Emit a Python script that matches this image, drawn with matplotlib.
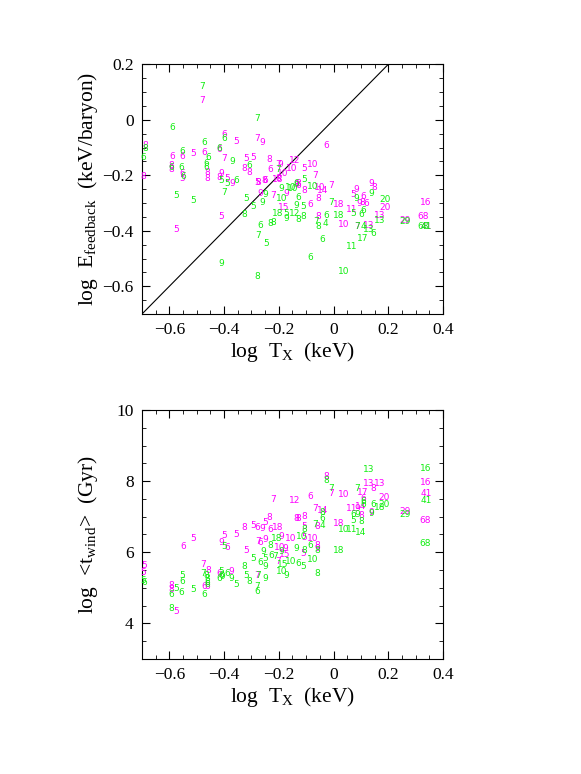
import numpy as np
import matplotlib
matplotlib.use("Agg")
import matplotlib.pyplot as plt
from matplotlib.ticker import MultipleLocator, FuncFormatter

plt.rcParams['font.family'] = ['Liberation Serif', 'DejaVu Serif']
plt.rcParams['mathtext.fontset'] = 'custom'
plt.rcParams['mathtext.rm'] = 'Liberation Serif'

MAG = '#ff00ff'
GRN = '#11ee11'

# --- top panel: log E_feedback vs log T_X, labels are the point numbers ---
top_mag_x = [-0.48, -0.40, -0.356, -0.281, -0.259, -0.417, -0.59, -0.553, -0.512, -0.472,
             -0.399, -0.321, -0.293, -0.235, -0.202, -0.193, -0.141, -0.326, -0.308, -0.23,
             -0.153, -0.593, -0.593, -0.553, -0.555, -0.462, -0.462, -0.412, -0.417, -0.387,
             -0.371, -0.279, -0.25, -0.202, -0.689, -0.697, -0.41, -0.576, -0.269, -0.222,
             -0.174, -0.181, -0.027, -0.108, -0.076, -0.068, -0.135, -0.108, -0.049, -0.041,
             -0.009, -0.055, -0.086, 0.018, -0.055, 0.036, 0.137, 0.148, 0.072, 0.084,
             0.109, 0.095, 0.105, 0.12, 0.066, 0.188, 0.167, 0.338, 0.261, 0.328,
             0.085, 0.127, -0.187, -0.204, -0.275, -0.253, -0.129, -0.129, 0.338]
top_mag_y = [0.07, -0.051, -0.078, -0.068, -0.083, -0.108, -0.132, -0.132, -0.12, -0.118,
             -0.14, -0.141, -0.136, -0.144, -0.16, -0.16, -0.146, -0.174, -0.19, -0.178,
             -0.176, -0.165, -0.178, -0.192, -0.21, -0.19, -0.21, -0.192, -0.206, -0.21,
             -0.228, -0.226, -0.219, -0.21, -0.093, -0.204, -0.349, -0.397, -0.264, -0.274,
             -0.264, -0.317, -0.092, -0.174, -0.16, -0.2, -0.232, -0.256, -0.243, -0.256,
             -0.237, -0.285, -0.304, -0.304, -0.35, -0.379, -0.231, -0.243, -0.268, -0.252,
             -0.277, -0.3, -0.298, -0.3, -0.322, -0.316, -0.346, -0.298, -0.364, -0.349,
             -0.385, -0.381, -0.195, -0.214, -0.225, -0.22, -0.228, -0.238, -0.385]
top_mag_lbl = [7, 6, 5, 7, 9, 6, 6, 6, 5, 6,
               7, 5, 5, 8, 7, 9, 12, 8, 8, 6,
               10, 8, 8, 6, 5, 8, 8, 9, 8, 5,
               9, 5, 6, 8, 8, 8, 5, 5, 9, 7,
               9, 15, 6, 5, 10, 7, 8, 8, 10, 14,
               7, 8, 6, 18, 8, 10, 9, 8, 5, 9,
               6, 9, 8, 6, 11, 20, 13, 16, 29, 68,
               7, 13, 10, 18, 8, 8, 8, 6, 41]

top_grn_x = [-0.48, -0.281, -0.59, -0.40, -0.472, -0.417, -0.553, -0.458, -0.371, -0.308,
             -0.202, -0.593, -0.557, -0.55, -0.464, -0.464, -0.409, -0.387, -0.357, -0.689,
             -0.697, -0.576, -0.513, -0.40, -0.321, -0.293, -0.326, -0.25, -0.259, -0.19,
             -0.192, -0.204, -0.174, -0.174, -0.141, -0.269, -0.232, -0.222, -0.275, -0.248,
             -0.412, -0.277, -0.108, -0.135, -0.148, -0.076, -0.129, -0.135, -0.11, -0.129,
             -0.112, -0.009, -0.062, -0.055, -0.031, -0.027, 0.018, 0.137, 0.084, 0.109,
             0.072, 0.103, 0.188, 0.167, 0.261, 0.328, 0.088, 0.11, 0.127, 0.145,
             0.105, 0.066, -0.043, -0.086, 0.036, -0.155, 0.338]
top_grn_y = [0.121, 0.006, -0.027, -0.068, -0.083, -0.102, -0.114, -0.134, -0.15, -0.165,
             -0.18, -0.17, -0.17, -0.204, -0.156, -0.17, -0.219, -0.23, -0.219, -0.105,
             -0.136, -0.274, -0.292, -0.261, -0.282, -0.313, -0.34, -0.27, -0.297, -0.285,
             -0.246, -0.336, -0.336, -0.354, -0.336, -0.382, -0.375, -0.37, -0.418, -0.445,
             -0.517, -0.565, -0.216, -0.228, -0.246, -0.24, -0.28, -0.309, -0.313, -0.358,
             -0.35, -0.297, -0.367, -0.385, -0.373, -0.346, -0.346, -0.264, -0.285, -0.325,
             -0.336, -0.34, -0.288, -0.363, -0.368, -0.385, -0.385, -0.385, -0.397, -0.411,
             -0.427, -0.457, -0.433, -0.497, -0.545, -0.244, -0.385]
top_grn_lbl = [7, 7, 6, 6, 6, 6, 6, 6, 9, 6,
               7, 6, 6, 6, 6, 6, 5, 5, 6, 8,
               6, 5, 5, 7, 5, 5, 8, 9, 9, 10,
               9, 18, 5, 9, 12, 6, 8, 8, 7, 5,
               9, 8, 5, 6, 10, 10, 6, 9, 5, 8,
               8, 7, 7, 8, 4, 6, 18, 9, 9, 6,
               5, 6, 20, 13, 29, 68, 7, 4, 13, 6,
               17, 11, 6, 6, 10, 10, 41]

# --- bottom panel: log <t_wind> vs log T_X ---
bot_mag_x = [-0.22, -0.141, -0.512, -0.549, -0.40, -0.356, -0.326, -0.293, -0.279, -0.259,
             -0.25, -0.235, -0.23, -0.204, -0.412, -0.39, -0.321, -0.275, -0.266, -0.248,
             -0.192, -0.196, -0.177, -0.157, -0.177, -0.202, -0.478, -0.458, -0.473, -0.463,
             -0.419, -0.372, -0.594, -0.594, -0.576, -0.281, -0.135, -0.692, -0.697, -0.027,
             -0.009, 0.036, 0.107, 0.145, 0.186, 0.34, 0.261, 0.334, 0.338, 0.127,
             0.167, 0.109, 0.066, 0.085, 0.10, 0.103, 0.137, 0.018, -0.086, -0.068,
             -0.041, -0.129, -0.108, -0.108, -0.058, -0.076, -0.108, -0.058, -0.058, -0.11]
bot_mag_y = [7.49, 7.45, 6.39, 6.16, 6.47, 6.51, 6.69, 6.75, 6.70, 6.67,
             6.83, 6.97, 6.65, 6.70, 6.27, 6.14, 6.04, 6.30, 6.28, 6.37,
             6.44, 6.13, 6.11, 6.39, 5.94, 5.74, 5.66, 5.50, 5.03, 5.03,
             5.41, 5.47, 5.06, 4.96, 4.33, 5.34, 6.96, 5.64, 5.43, 8.12,
             7.66, 7.63, 7.69, 7.78, 7.53, 7.66, 7.14, 6.88, 7.96, 7.94,
             7.94, 7.50, 7.24, 7.24, 7.30, 7.02, 7.12, 6.80, 7.56, 7.22,
             7.17, 6.95, 7.00, 6.72, 6.72, 6.39, 6.41, 6.20, 6.11, 5.97]
bot_mag_lbl = [7, 12, 5, 6, 5, 5, 8, 5, 6, 9,
               5, 8, 6, 18, 9, 6, 5, 7, 6, 9,
               9, 10, 9, 10, 15, 7, 7, 8, 6, 6,
               6, 9, 8, 8, 5, 7, 8, 5, 5, 8,
               7, 10, 17, 8, 20, 41, 29, 68, 16, 13,
               13, 6, 11, 9, 14, 8, 9, 18, 6, 7,
               14, 8, 8, 5, 8, 10, 5, 8, 9, 5]

bot_grn_x = [-0.208, -0.116, -0.40, -0.232, -0.257, -0.192, -0.25, -0.229, -0.214, -0.137,
             -0.157, -0.184, -0.19, -0.171, -0.293, -0.269, -0.25, -0.326, -0.321, -0.308,
             -0.275, -0.25, -0.281, -0.277, -0.478, -0.464, -0.462, -0.462, -0.462, -0.472,
             -0.412, -0.412, -0.419, -0.405, -0.387, -0.372, -0.356, -0.553, -0.553, -0.576,
             -0.555, -0.594, -0.512, -0.594, -0.697, -0.69, 0.127, 0.338, -0.027, -0.009,
             0.085, 0.186, 0.167, 0.145, 0.34, 0.261, 0.334, 0.109, 0.109, 0.072,
             0.085, 0.137, 0.072, 0.103, 0.10, 0.036, 0.066, 0.018, -0.041, -0.041,
             -0.068, -0.04, -0.108, -0.086, -0.058, -0.108, -0.076, -0.129, -0.11, -0.06]
bot_grn_y = [6.39, 6.44, 6.16, 6.19, 6.02, 6.02, 5.83, 5.92, 5.88, 6.11,
             5.75, 5.66, 5.45, 5.36, 5.83, 5.71, 5.60, 5.60, 5.34, 5.19,
             5.36, 5.25, 5.05, 4.89, 5.41, 5.34, 5.25, 5.16, 5.08, 4.82,
             5.45, 5.36, 5.27, 5.31, 5.39, 5.25, 5.10, 5.34, 5.19, 4.99,
             4.87, 4.80, 4.94, 4.41, 5.22, 5.14, 8.34, 8.36, 8.01, 7.78,
             7.78, 7.35, 7.25, 7.33, 7.45, 7.05, 6.25, 7.42, 7.34, 7.05,
             7.05, 7.08, 6.89, 6.86, 6.56, 6.63, 6.63, 6.06, 7.11, 6.95,
             6.79, 6.75, 6.65, 6.20, 6.04, 6.04, 5.80, 5.69, 5.61, 5.41]
bot_grn_lbl = [18, 10, 5, 8, 9, 9, 5, 6, 7, 9,
               10, 15, 10, 9, 5, 6, 9, 8, 5, 8,
               7, 9, 7, 6, 7, 8, 8, 6, 6, 6,
               5, 6, 6, 9, 6, 9, 5, 5, 6, 5,
               6, 6, 5, 8, 5, 6, 13, 16, 8, 7,
               7, 20, 18, 6, 41, 29, 68, 6, 6, 6,
               9, 9, 5, 8, 14, 10, 11, 18, 8, 6,
               7, 4, 8, 6, 8, 8, 10, 6, 5, 8]

diag = np.array([-0.7, 0.2])


def label_points(ax, xs, ys, lbls, color):
    # the points are drawn as their own number, like the original
    for x, y, s in zip(xs, ys, lbls):
        ax.text(x, y, str(s), color=color, fontsize=6.5, family='DejaVu Sans',
                ha='center', va='center')


def fmt(v, pos):
    return ('%g' % v).replace('-', '\u2212')


def style(ax, ymaj, ymin):
    ax.xaxis.set_major_locator(MultipleLocator(0.2))
    ax.xaxis.set_minor_locator(MultipleLocator(0.05))
    ax.yaxis.set_major_locator(MultipleLocator(ymaj))
    ax.yaxis.set_minor_locator(MultipleLocator(ymin))
    ax.xaxis.set_major_formatter(FuncFormatter(fmt))
    ax.yaxis.set_major_formatter(FuncFormatter(fmt))
    ax.tick_params(which='both', direction='in', top=True, right=True, labelsize=12.5, pad=6)
    ax.tick_params(which='major', length=6)
    ax.tick_params(which='minor', length=3)


fig = plt.figure(figsize=(5.81, 7.74), dpi=100)
ax1 = fig.add_axes([0.2444, 0.5943, 0.518, 0.3225])
ax2 = fig.add_axes([0.2444, 0.1486, 0.518, 0.3217])

label_points(ax1, top_mag_x, top_mag_y, top_mag_lbl, MAG)
label_points(ax1, top_grn_x, top_grn_y, top_grn_lbl, GRN)
ax1.plot(diag, diag, color='black', lw=0.8)
ax1.set_xlim(-0.7, 0.4)
ax1.set_ylim(-0.7, 0.2)
style(ax1, 0.2, 0.05)
ax1.set_xlabel(r'log  T$_{\rm X}$  (keV)', fontsize=15.5, labelpad=1)
ax1.set_ylabel(r'log  E$_{\rm feedback}$  (keV/baryon)', fontsize=15.5, labelpad=2)

label_points(ax2, bot_mag_x, bot_mag_y, bot_mag_lbl, MAG)
label_points(ax2, bot_grn_x, bot_grn_y, bot_grn_lbl, GRN)
ax2.set_xlim(-0.7, 0.4)
ax2.set_ylim(3, 10)
style(ax2, 2, 0.5)
ax2.set_xlabel(r'log  T$_{\rm X}$  (keV)', fontsize=15.5, labelpad=1)
ax2.set_ylabel(r'log  <t$_{\rm wind}$>  (Gyr)', fontsize=15.5, labelpad=12)

fig.savefig('out.png', dpi=100)
